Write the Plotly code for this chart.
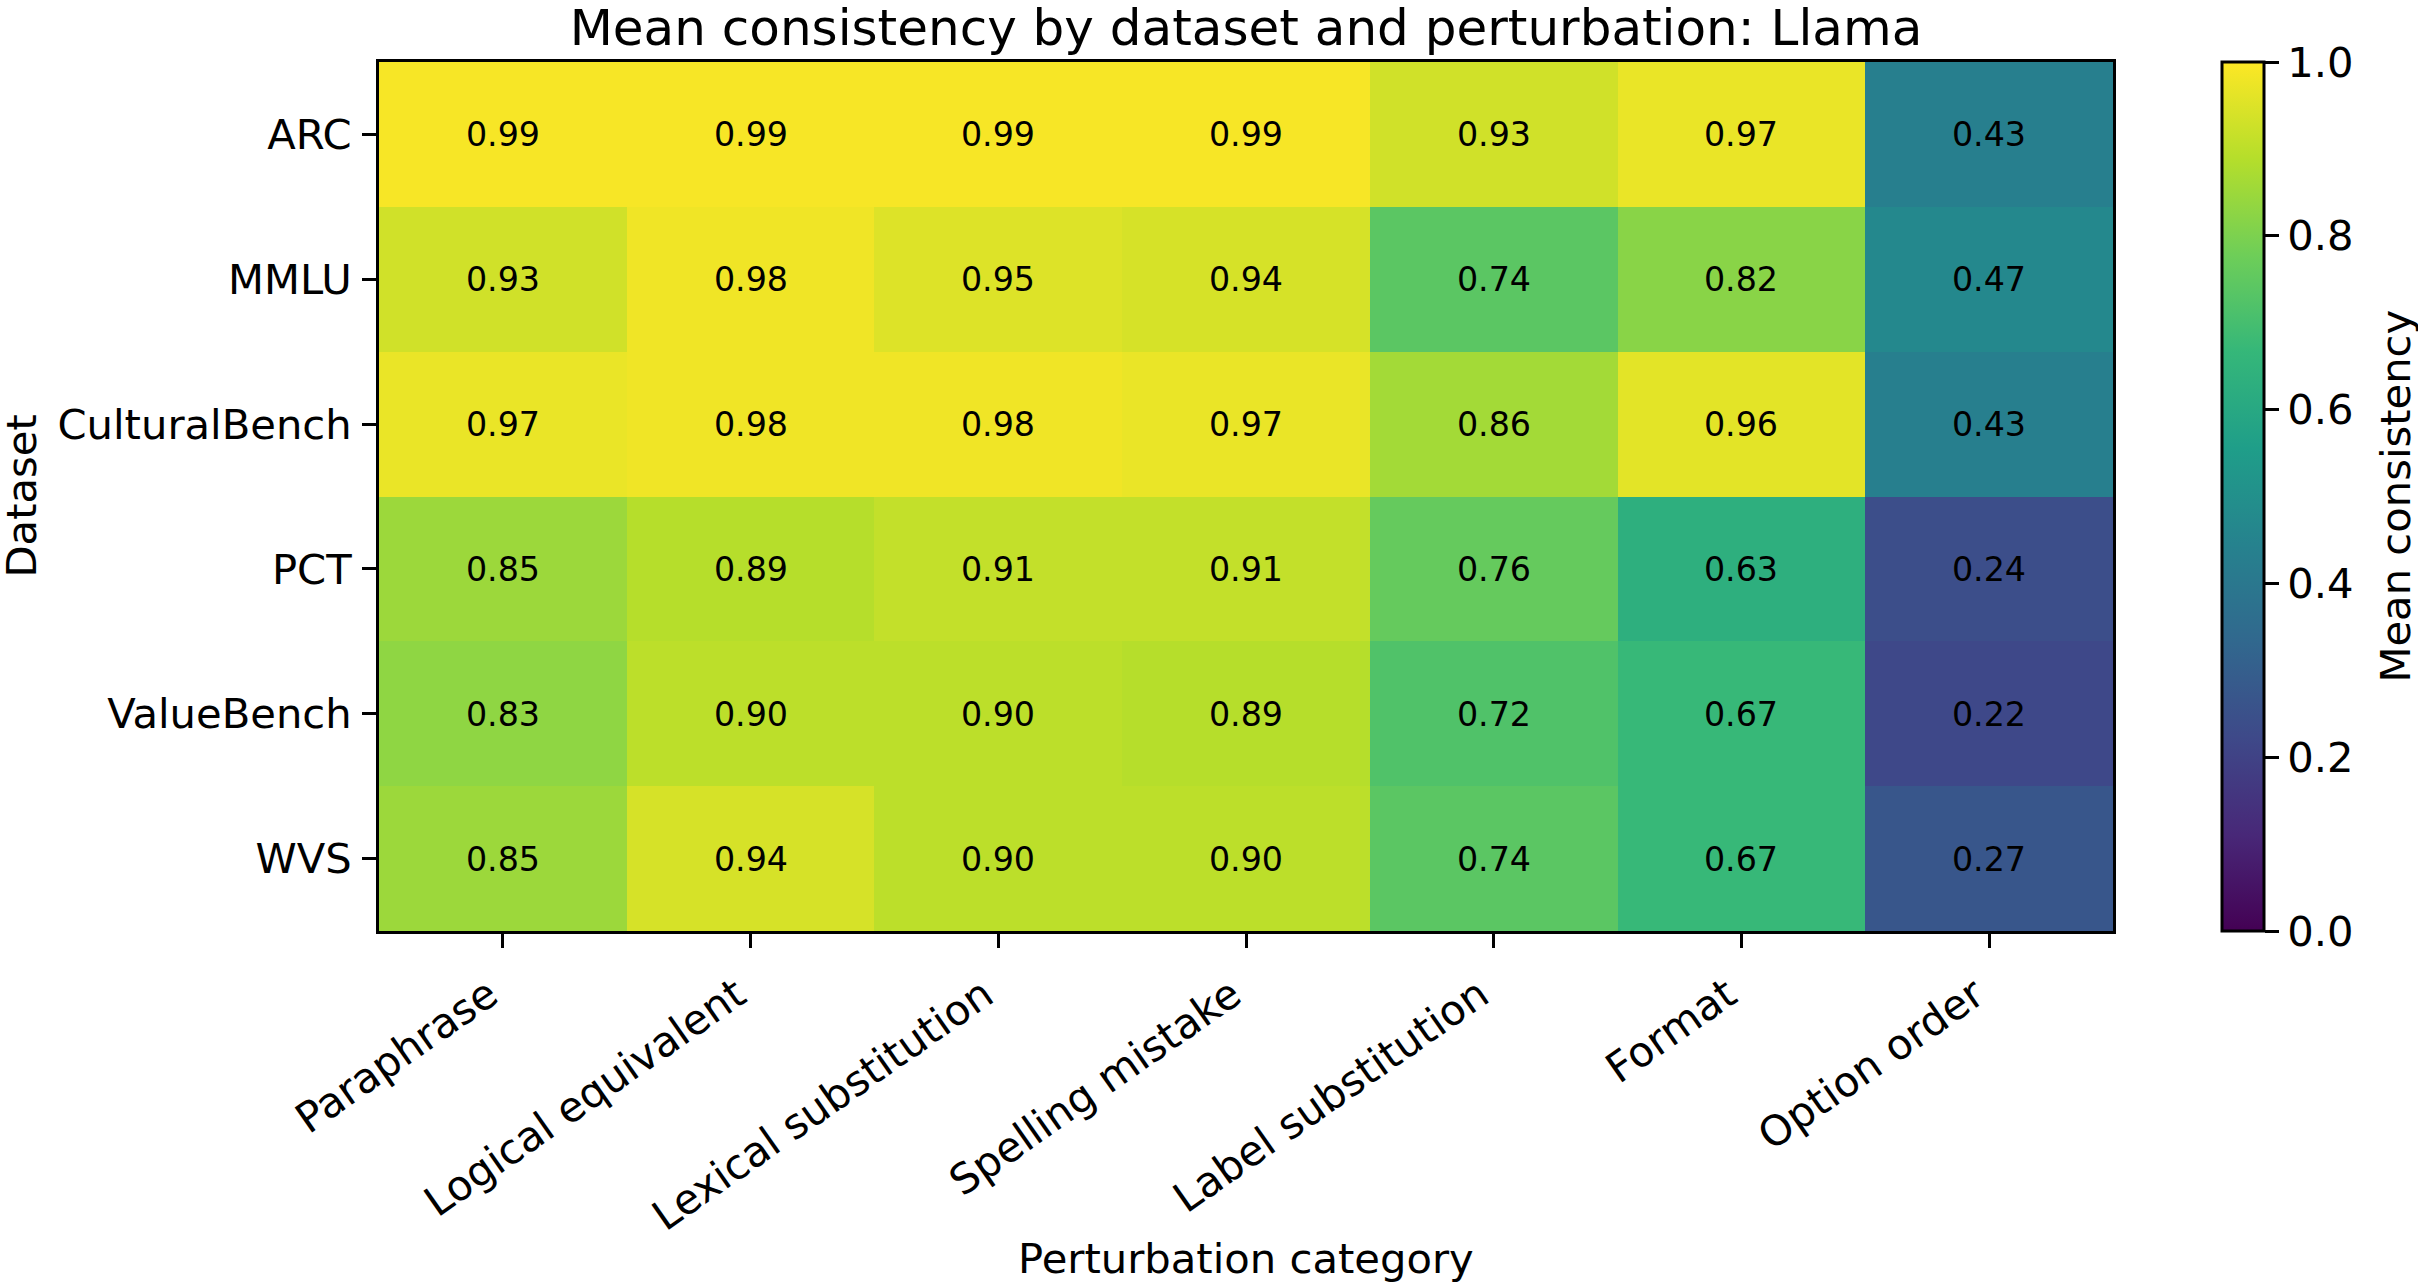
import plotly.graph_objects as go

datasets = ["ARC", "MMLU", "CulturalBench", "PCT", "ValueBench", "WVS"]
perturbations = ["Paraphrase", "Logical equivalent", "Lexical substitution",
                 "Spelling mistake", "Label substitution", "Format", "Option order"]

arc = [0.99, 0.99, 0.99, 0.99, 0.93, 0.97, 0.43]
mmlu = [0.93, 0.98, 0.95, 0.94, 0.74, 0.82, 0.47]
culturalbench = [0.97, 0.98, 0.98, 0.97, 0.86, 0.96, 0.43]
pct = [0.85, 0.89, 0.91, 0.91, 0.76, 0.63, 0.24]
valuebench = [0.83, 0.90, 0.90, 0.89, 0.72, 0.67, 0.22]
wvs = [0.85, 0.94, 0.90, 0.90, 0.74, 0.67, 0.27]

colorbar_ticks = [0.0, 0.2, 0.4, 0.6, 0.8, 1.0]

z = [arc, mmlu, culturalbench, pct, valuebench, wvs]

W, H = 2418, 1283
L, R, T, B = 379, 2113, 62, 931
FONT = "DejaVu Sans"
FS = 41.7

fig = go.Figure(go.Heatmap(
    z=z, x=perturbations, y=datasets,
    colorscale="Viridis", zmin=0, zmax=1,
    texttemplate="%{z:.2f}",
    textfont=dict(family=FONT, size=33.3, color="black"),
    colorbar=dict(
        x=(2222 - L) / (R - L), xanchor="left", xpad=0,
        y=0.5, yanchor="middle", len=1, lenmode="fraction", ypad=0,
        thickness=42, thicknessmode="pixels",
        outlinewidth=3, outlinecolor="black",
        tickvals=colorbar_ticks, ticktext=[f"{v:.1f}" for v in colorbar_ticks],
        ticks="outside", ticklen=14, tickwidth=3, tickcolor="black",
        tickfont=dict(family=FONT, size=FS, color="black"),
    ),
))

axis_common = dict(
    showline=True, linecolor="black", linewidth=3, mirror=True,
    ticks="outside", ticklen=14, tickwidth=3, tickcolor="black",
    tickfont=dict(family=FONT, size=FS, color="black"),
    showgrid=False, zeroline=False,
)

fig.update_xaxes(**axis_common, tickangle=-35, ticklabelstandoff=6, ticklabelshift=-14)
fig.update_yaxes(**axis_common, autorange="reversed", ticklabelstandoff=2)

fig.update_layout(
    width=W, height=H,
    margin=dict(l=L, r=W - R, t=T, b=H - B),
    plot_bgcolor="white", paper_bgcolor="white",
    font=dict(family=FONT, color="black"),
    title=dict(text="Mean consistency by dataset and perturbation: Llama",
               x=(L + R) / 2 / W, xanchor="center", xref="container",
               y=1 - 27 / H, yanchor="middle", yref="container",
               font=dict(family=FONT, size=50, color="black")),
    annotations=[
        dict(text="Dataset", textangle=-90, xref="paper", yref="paper",
             x=(21 - L) / (R - L), y=0.5, xanchor="center", yanchor="middle",
             showarrow=False, font=dict(family=FONT, size=FS, color="black")),
        dict(text="Perturbation category", xref="paper", yref="paper",
             x=0.5, y=(B - 1258) / (B - T), xanchor="center", yanchor="middle",
             showarrow=False, font=dict(family=FONT, size=FS, color="black")),
        dict(text="Mean consistency", textangle=-90, xref="paper", yref="paper",
             x=(2395 - L) / (R - L), y=0.5, xanchor="center", yanchor="middle",
             showarrow=False, font=dict(family=FONT, size=FS, color="black")),
    ],
)

fig.write_html("out.html")
